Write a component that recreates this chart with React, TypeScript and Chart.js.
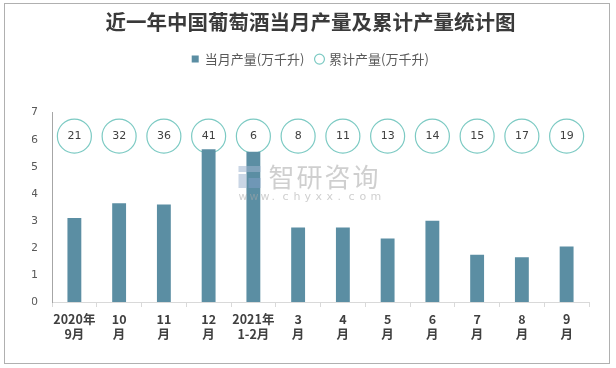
import React, { useEffect, useRef } from 'react';
import { Chart, registerables } from 'chart.js';

Chart.register(...registerables);

const TITLE = '近一年中国葡萄酒当月产量及累计产量统计图';
const SERIES_MONTHLY = '当月产量(万千升)';
const SERIES_CUMULATIVE = '累计产量(万千升)';
const CATEGORY_LINES: string[][] = [
  ['2020年', '9月'], ['10', '月'], ['11', '月'], ['12', '月'], ['2021年', '1-2月'],
  ['3', '月'], ['4', '月'], ['5', '月'], ['6', '月'], ['7', '月'], ['8', '月'], ['9', '月'],
];
const MONTHLY = [3.1, 3.65, 3.6, 5.65, 5.55, 2.75, 2.75, 2.35, 3.0, 1.75, 1.65, 2.05];
const CUMULATIVE = [21, 32, 36, 41, 6, 8, 11, 13, 14, 15, 17, 19];
const Y_MIN = 0;
const Y_MAX = 7;
const Y_STEP = 1;
const CIRCLE_LEVEL = 6.13;

const BAR_COLOR = '#5b8ea3';
const CIRCLE_COLOR = '#7ccac3';
const SANS = '"DejaVu Sans", "Noto Sans CJK SC", sans-serif';
const CJK = '"Noto Sans CJK SC", "DejaVu Sans", sans-serif';

const circleLabelPlugin = {
  id: 'circleLabels',
  afterDatasetsDraw(chart: any) {
    const ctx = chart.ctx;
    const meta = chart.getDatasetMeta(1);
    ctx.save();
    ctx.font = '11px ' + SANS;
    ctx.fillStyle = '#404040';
    ctx.textAlign = 'center';
    ctx.textBaseline = 'middle';
    meta.data.forEach((pt: any, i: number) => {
      ctx.fillText(String(CUMULATIVE[i]), pt.x, pt.y);
    });
    ctx.restore();
  },
};

const watermarkPlugin = {
  id: 'watermark',
  afterDraw(chart: any) {
    const ctx = chart.ctx;
    const area = chart.chartArea;
    const cx = (area.left + area.right) / 2;
    ctx.save();
    ctx.globalAlpha = 0.55;
    ctx.fillStyle = '#9fb4cf';
    ctx.fillRect(cx - 82, 166, 22, 6);
    ctx.fillRect(cx - 82, 174, 8, 14);
    ctx.fillStyle = '#7f9fc6';
    ctx.fillRect(cx - 72, 178, 12, 10);
    ctx.fillStyle = '#a8a8a8';
    ctx.font = '26px ' + CJK;
    ctx.textAlign = 'left';
    ctx.textBaseline = 'middle';
    const word = '智研咨询';
    for (let i = 0; i < word.length; i++) {
      ctx.fillText(word[i], cx - 52 + i * 28, 177);
    }
    ctx.font = '11px ' + SANS;
    const site = 'www.chyxx.com';
    for (let i = 0; i < site.length; i++) {
      ctx.fillText(site[i], cx - 82 + i * 11, 197);
    }
    ctx.restore();
  },
};

export default function App() {
  const ref = useRef<HTMLCanvasElement | null>(null);

  useEffect(() => {
    const canvas = ref.current;
    if (!canvas) return;
    const chart = new Chart(canvas, {
      type: 'bar',
      data: {
        labels: CATEGORY_LINES,
        datasets: [
          {
            type: 'bar',
            label: SERIES_MONTHLY,
            data: MONTHLY,
            backgroundColor: BAR_COLOR,
            borderWidth: 0,
            barPercentage: 0.31,
            categoryPercentage: 1,
            pointStyle: 'rect',
          } as any,
          {
            type: 'line',
            label: SERIES_CUMULATIVE,
            data: MONTHLY.map(() => CIRCLE_LEVEL),
            showLine: false,
            pointStyle: 'circle',
            pointRadius: 17,
            pointHoverRadius: 17,
            pointBorderWidth: 1.2,
            pointBorderColor: CIRCLE_COLOR,
            pointBackgroundColor: '#ffffff',
            borderColor: CIRCLE_COLOR,
            backgroundColor: '#ffffff',
            clip: false,
          } as any,
        ],
      },
      options: {
        animation: false,
        responsive: false,
        maintainAspectRatio: false,
        layout: { padding: { top: 0, left: 32, right: 27, bottom: 21 } },
        plugins: {
          title: {
            display: true,
            text: TITLE,
            color: '#3a3a3a',
            font: { family: CJK, size: 20.5, weight: 'bold' },
            padding: { top: 10, bottom: 6 },
          },
          legend: {
            display: true,
            labels: {
              usePointStyle: true,
              boxWidth: 6,
              boxHeight: 7,
              padding: 12,
              color: '#595959',
              font: { family: CJK, size: 13 },
            },
          },
          tooltip: { enabled: false },
        },
        scales: {
          x: {
            grid: {
              display: true,
              drawOnChartArea: false,
              drawTicks: true,
              tickLength: 5,
              color: '#d9d9d9',
              offset: true,
            },
            border: { display: true, color: '#d9d9d9', width: 1 },
            ticks: {
              color: '#404040',
              padding: 5,
              maxRotation: 0,
              autoSkip: false,
              font: { family: CJK, size: 12.5, weight: 'bold', lineHeight: 1.2 },
            },
            afterFit(scale: any) {
              scale.paddingLeft = 0;
              scale.paddingRight = 0;
            },
          },
          spacer: {
            type: 'category',
            position: 'top',
            display: true,
            grid: { display: false, drawTicks: false },
            border: { display: false },
            ticks: { display: false },
            afterFit(scale: any) {
              scale.height = 37;
              scale.paddingLeft = 0;
              scale.paddingRight = 0;
            },
          },
          y: {
            min: Y_MIN,
            max: Y_MAX,
            grid: { display: false, drawTicks: false },
            border: { display: true, color: '#a6a6a6', width: 1 },
            ticks: {
              stepSize: Y_STEP,
              padding: 14,
              color: '#595959',
              font: { family: SANS, size: 11 },
            },
            afterFit(scale: any) {
              scale.width = 20;
            },
          },
        } as any,
      },
      plugins: [circleLabelPlugin, watermarkPlugin],
    });
    return () => chart.destroy();
  }, []);

  return (
    <div style={{ position: 'absolute', left: 0, top: 0, width: 616, height: 368, background: '#ffffff' }}>
      <canvas ref={ref} width={616} height={368} style={{ position: 'absolute', left: 0, top: 0 }} />
      <div
        style={{
          position: 'absolute',
          left: 4,
          top: 3,
          width: 604,
          height: 359,
          border: '1px solid #b0b0b0',
          pointerEvents: 'none',
        }}
      />
    </div>
  );
}
